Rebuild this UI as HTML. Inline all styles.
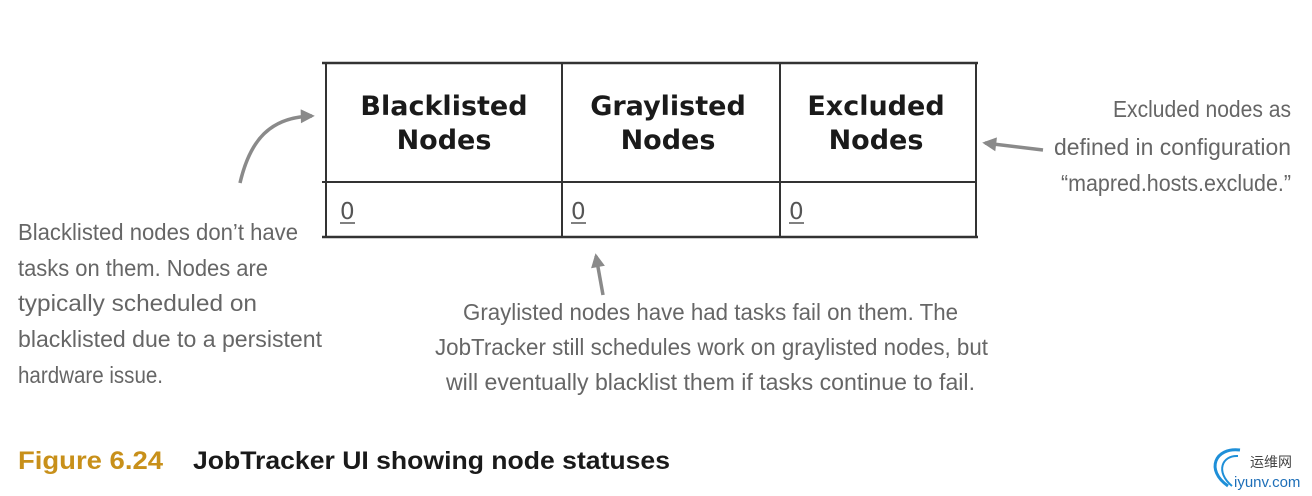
<!DOCTYPE html>
<html><head><meta charset="utf-8"><style>
html,body{margin:0;padding:0;background:#fff}
svg{display:block}
</style></head><body>
<svg width="1312" height="496" viewBox="0 0 1312 496" xmlns="http://www.w3.org/2000/svg">
<defs>
<marker id="ah2" viewBox="0 0 10 10" markerWidth="18" markerHeight="14" refX="8" refY="5" orient="auto" markerUnits="userSpaceOnUse"><path d="M0,0 L10,5 L0,10 Z" fill="#8a8a8a"/></marker></defs>
<g stroke="#333" fill="none">
<line x1="322" y1="63" x2="978" y2="63" stroke-width="2.5"/>
<line x1="322" y1="182" x2="976" y2="182" stroke-width="2"/>
<line x1="322" y1="237" x2="978" y2="237" stroke-width="2.5"/>
<line x1="326" y1="63" x2="326" y2="237" stroke-width="2"/>
<line x1="562" y1="63" x2="562" y2="237" stroke-width="2"/>
<line x1="780" y1="63" x2="780" y2="237" stroke-width="2"/>
<line x1="976" y1="63" x2="976" y2="237" stroke-width="2"/>
</g>
<g font-family="DejaVu Sans, sans-serif" font-weight="bold" font-size="27" fill="#1a1a1a" text-anchor="middle">
<text x="444" y="115">Blacklisted</text><text x="444" y="149">Nodes</text>
<text x="668" y="115">Graylisted</text><text x="668" y="149">Nodes</text>
<text x="876" y="115">Excluded</text><text x="876" y="149">Nodes</text>
</g>
<g font-family="DejaVu Sans, sans-serif" font-size="23" fill="#555">
<text x="340" y="219">0</text><text x="571" y="219">0</text><text x="789" y="219">0</text>
</g>
<g stroke="#555" stroke-width="1.5"><line x1="340" y1="223" x2="355" y2="223"/><line x1="571" y1="223" x2="586" y2="223"/><line x1="789" y1="223" x2="804" y2="223"/></g>
<g stroke="#8a8a8a" stroke-width="3.5" fill="none">
<path d="M240,183 C250,140 270,117 312,116" marker-end="url(#ah2)"/>
<path d="M603,295 L596,256" marker-end="url(#ah2)"/>
<path d="M1043,150 L985,143" marker-end="url(#ah2)"/>
</g>
<g font-family="Liberation Sans, sans-serif" font-size="23" fill="#666">
<text x="18" y="240" textLength="280" lengthAdjust="spacingAndGlyphs">Blacklisted nodes don’t have</text>
<text x="18" y="276" textLength="250" lengthAdjust="spacingAndGlyphs">tasks on them. Nodes are</text>
<text x="18" y="311" textLength="239" lengthAdjust="spacingAndGlyphs">typically scheduled on</text>
<text x="18" y="347" textLength="304" lengthAdjust="spacingAndGlyphs">blacklisted due to a persistent</text>
<text x="18" y="383" textLength="145" lengthAdjust="spacingAndGlyphs">hardware issue.</text>
<text x="463" y="320" textLength="495" lengthAdjust="spacingAndGlyphs">Graylisted nodes have had tasks fail on them. The</text>
<text x="435" y="355" textLength="553" lengthAdjust="spacingAndGlyphs">JobTracker still schedules work on graylisted nodes, but</text>
<text x="446" y="390" textLength="529" lengthAdjust="spacingAndGlyphs">will eventually blacklist them if tasks continue to fail.</text>
<text x="1113" y="117" textLength="178" lengthAdjust="spacingAndGlyphs">Excluded nodes as</text>
<text x="1054" y="155" textLength="237" lengthAdjust="spacingAndGlyphs">defined in configuration</text>
<text x="1061" y="191" textLength="230" lengthAdjust="spacingAndGlyphs">“mapred.hosts.exclude.”</text>
</g>
<text x="18" y="469" font-family="Liberation Sans, sans-serif" font-weight="bold" font-size="25" fill="#c8901a" textLength="145" lengthAdjust="spacingAndGlyphs">Figure 6.24</text>
<text x="193" y="469" font-family="Liberation Sans, sans-serif" font-weight="bold" font-size="25" fill="#1a1a1a" textLength="477" lengthAdjust="spacingAndGlyphs">JobTracker UI showing node statuses</text>
<path d="M1228,486 C1205,470 1215,447 1240,450" stroke="#1e8fd8" stroke-width="3" fill="none"/>
<path d="M1232,486 C1215,472 1222,455 1238,456" stroke="#1e8fd8" stroke-width="2" fill="none"/>
<text x="1250" y="467" font-family="Noto Sans CJK SC, sans-serif" font-size="14" fill="#444">运维网</text>
<text x="1234" y="487" font-family="Liberation Sans, sans-serif" font-size="15" fill="#1e6fb8">iyunv.com</text>
</svg>
</body></html>
